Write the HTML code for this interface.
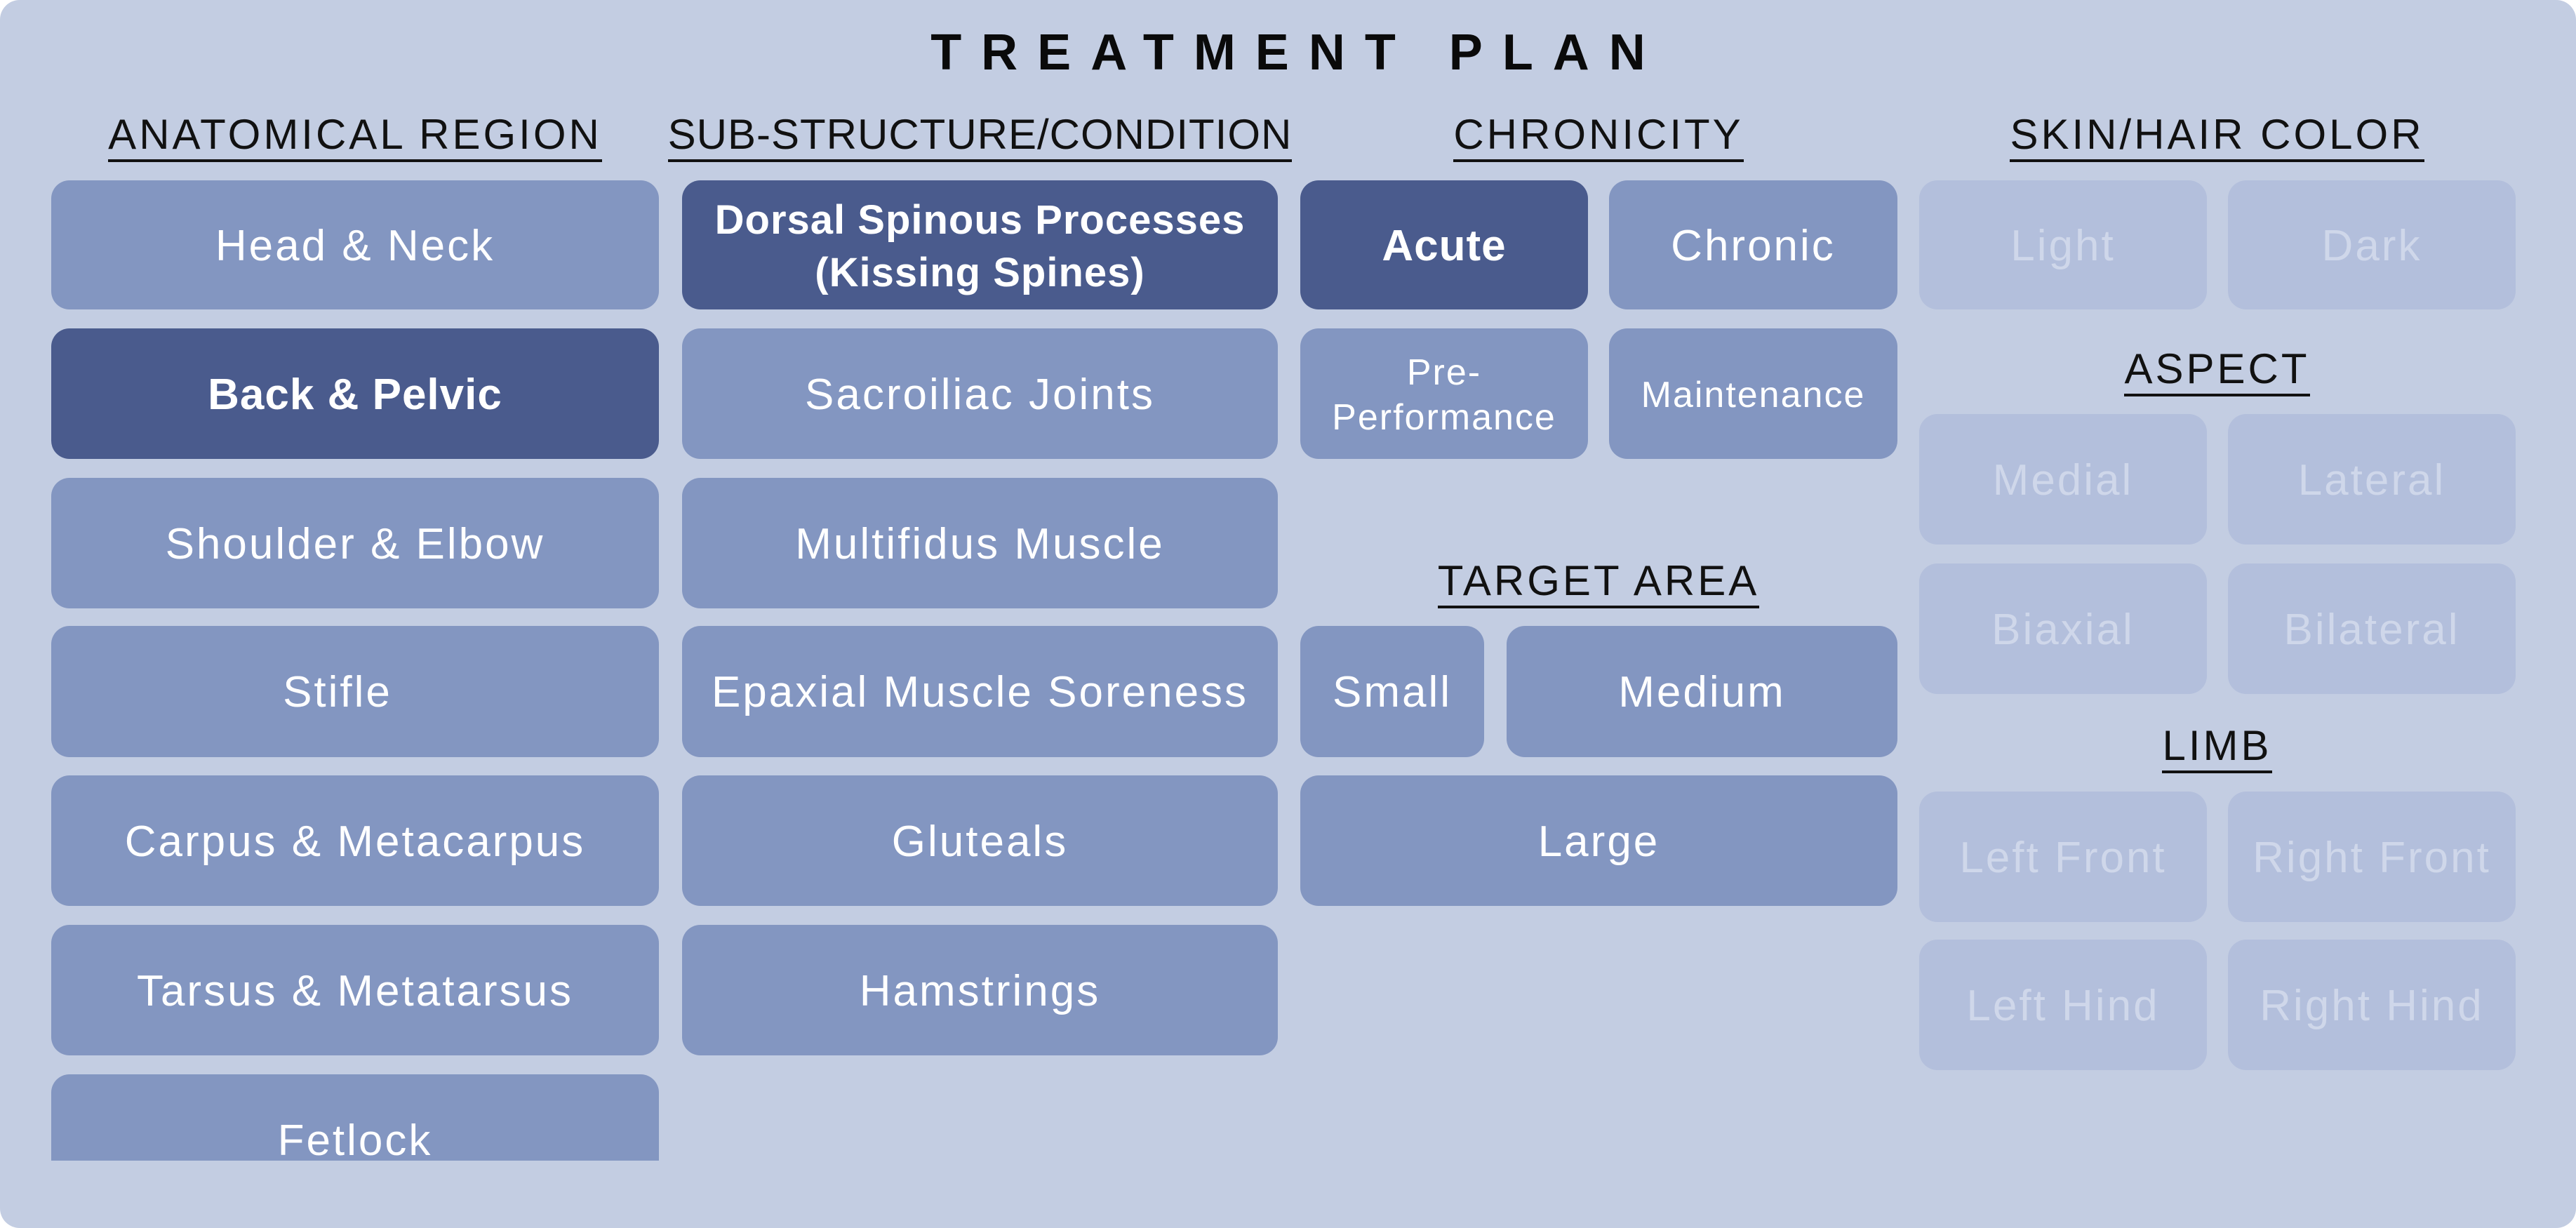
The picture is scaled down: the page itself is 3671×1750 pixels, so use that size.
<!DOCTYPE html>
<html><head><meta charset="utf-8"><style>
*{margin:0;padding:0;box-sizing:border-box}
body{width:3671px;height:1750px;background:#fff;overflow:hidden;font-family:"Liberation Sans",sans-serif}
#c{position:absolute;left:0;top:0;width:3671px;height:1750px;background:#c3cde2;border-radius:28px;overflow:hidden}
.t{position:absolute;left:0;width:3671px;top:34px;text-align:center;font-weight:bold;font-size:72px;letter-spacing:28px;padding-left:28px;color:#0a0a0a}
.h{position:absolute;text-align:center;font-size:60px;letter-spacing:4px;color:#111;height:70px;line-height:70px;white-space:nowrap}
.h span{border-bottom:4px solid #111;padding-bottom:2px}
.b{position:absolute;background:#8396c1;border-radius:26px;color:#fff;display:flex;align-items:center;justify-content:center;text-align:center;font-size:62px;letter-spacing:3px;line-height:1.2;padding-top:4px}
.d{background:#4a5b8d;font-weight:bold;letter-spacing:1px}
.f{background:#b3bfdc;color:#cfd7ea}
.s{font-size:52px;letter-spacing:2px}
</style></head><body><div id="c">
<div class="t">TREATMENT PLAN</div>
<div class="h" style="left:73px;width:866px;top:157px"><span>ANATOMICAL REGION</span></div>
<div class="h" style="left:940px;width:913px;top:157px;letter-spacing:1px"><span>SUB-STRUCTURE/CONDITION</span></div>
<div class="h" style="left:1852px;width:852px;top:157px"><span>CHRONICITY</span></div>
<div class="h" style="left:2735px;width:849px;top:157px"><span>SKIN/HAIR COLOR</span></div>
<div class="h" style="left:2735px;width:849px;top:491px"><span>ASPECT</span></div>
<div class="h" style="left:1852px;width:852px;top:793px"><span>TARGET AREA</span></div>
<div class="h" style="left:2735px;width:849px;top:1028px"><span>LIMB</span></div>

<div class="b" style="left:73px;top:257px;width:866px;height:184px">Head &amp; Neck</div>
<div class="b d" style="left:73px;top:468px;width:866px;height:186px">Back &amp; Pelvic</div>
<div class="b" style="left:73px;top:681px;width:866px;height:186px">Shoulder &amp; Elbow</div>
<div class="b" style="left:73px;top:892px;width:866px;height:187px;padding-right:50px">Stifle</div>
<div class="b" style="left:73px;top:1105px;width:866px;height:186px">Carpus &amp; Metacarpus</div>
<div class="b" style="left:73px;top:1318px;width:866px;height:186px">Tarsus &amp; Metatarsus</div>
<div style="position:absolute;left:73px;top:1531px;width:866px;height:123px;overflow:hidden"><div class="b" style="left:0;top:0;width:866px;height:186px">Fetlock</div></div>

<div class="b d" style="left:972px;top:257px;width:849px;height:184px;font-size:58px;line-height:75px">Dorsal Spinous Processes<br>(Kissing Spines)</div>
<div class="b" style="left:972px;top:468px;width:849px;height:186px">Sacroiliac Joints</div>
<div class="b" style="left:972px;top:681px;width:849px;height:186px">Multifidus Muscle</div>
<div class="b" style="left:972px;top:892px;width:849px;height:187px">Epaxial Muscle Soreness</div>
<div class="b" style="left:972px;top:1105px;width:849px;height:186px">Gluteals</div>
<div class="b" style="left:972px;top:1318px;width:849px;height:186px">Hamstrings</div>

<div class="b d" style="left:1853px;top:257px;width:410px;height:184px">Acute</div>
<div class="b" style="left:2293px;top:257px;width:411px;height:184px">Chronic</div>
<div class="b s" style="left:1853px;top:468px;width:410px;height:186px;line-height:64px">Pre-<br>Performance</div>
<div class="b s" style="left:2293px;top:468px;width:411px;height:186px">Maintenance</div>
<div class="b" style="left:1853px;top:892px;width:262px;height:187px">Small</div>
<div class="b" style="left:2147px;top:892px;width:557px;height:187px">Medium</div>
<div class="b" style="left:1853px;top:1105px;width:851px;height:186px">Large</div>

<div class="b f" style="left:2735px;top:257px;width:410px;height:184px">Light</div>
<div class="b f" style="left:3175px;top:257px;width:410px;height:184px">Dark</div>
<div class="b f" style="left:2735px;top:590px;width:410px;height:186px">Medial</div>
<div class="b f" style="left:3175px;top:590px;width:410px;height:186px">Lateral</div>
<div class="b f" style="left:2735px;top:803px;width:410px;height:186px">Biaxial</div>
<div class="b f" style="left:3175px;top:803px;width:410px;height:186px">Bilateral</div>
<div class="b f" style="left:2735px;top:1128px;width:410px;height:186px">Left Front</div>
<div class="b f" style="left:3175px;top:1128px;width:410px;height:186px">Right Front</div>
<div class="b f" style="left:2735px;top:1339px;width:410px;height:186px">Left Hind</div>
<div class="b f" style="left:3175px;top:1339px;width:410px;height:186px">Right Hind</div>
</div></body></html>
